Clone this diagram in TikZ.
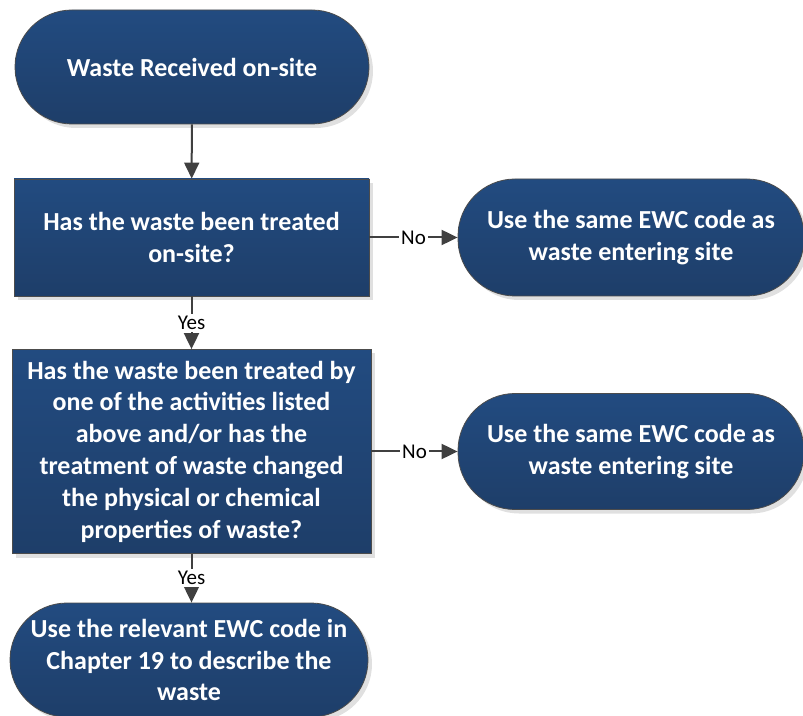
\documentclass[tikz,border=0pt]{standalone}
\usepackage{fontspec}
\setmainfont{Carlito}
\usetikzlibrary{arrows.meta,shadows}
\definecolor{boxtop}{HTML}{224B80}
\definecolor{boxbottom}{HTML}{1E3E69}
\definecolor{linegray}{HTML}{404040}

\begin{document}
\begin{tikzpicture}[x=0.5pt,y=-0.5pt,
    box/.style={draw=gray!60!black, top color=boxtop, bottom color=boxbottom, text=white,
        font=\bfseries\fontsize{13}{15.9}\selectfont, align=center, inner sep=0pt,
        drop shadow={shadow xshift=2pt, shadow yshift=-2pt, fill=black!12, opacity=1}},
    term/.style={box, rounded corners=28.5pt},
    flow/.style={draw=linegray, line width=1pt, -{Triangle[width=7.5pt,length=8pt]}},
    lbl/.style={fill=white, text=black, inner sep=1pt, font=\fontsize{10.5}{12}\selectfont}]
\useasboundingbox (0,0) rectangle (803,716);

\node[term, minimum width=177pt, minimum height=57pt] (start) at (192,67) {Waste Received on-site};
\node[box, minimum width=177.5pt, minimum height=58.5pt] (treated) at (191.5,237.5)
    {Has the waste been treated\\on-site?};
\node[box, minimum width=179.5pt, minimum height=102pt] (changed) at (191.5,451.5)
    {Has the waste been treated by\\one of the activities listed\\above and/or has the\\treatment of waste changed\\the physical or chemical\\properties of waste?};
\node[term, minimum width=179pt, minimum height=57pt] (relevant) at (189,660)
    {Use the relevant EWC code in\\Chapter 19 to describe the\\waste};
\node[term, minimum width=173pt, minimum height=58.5pt] (same1) at (631,237.5)
    {Use the same EWC code as\\waste entering site};
\node[term, minimum width=173pt, minimum height=58pt] (same2) at (631,451.5)
    {Use the same EWC code as\\waste entering site};

\draw[flow] (start) -- (treated);
\draw[flow] (treated) -- node[lbl] {Yes} (changed);
\draw[flow] (changed.south) -- node[lbl] {Yes} (changed.south |- relevant.north);
\draw[flow] (treated) -- node[lbl] {No} (same1);
\draw[flow] (changed) -- node[lbl] {No} (same2);
\end{tikzpicture}
\end{document}
